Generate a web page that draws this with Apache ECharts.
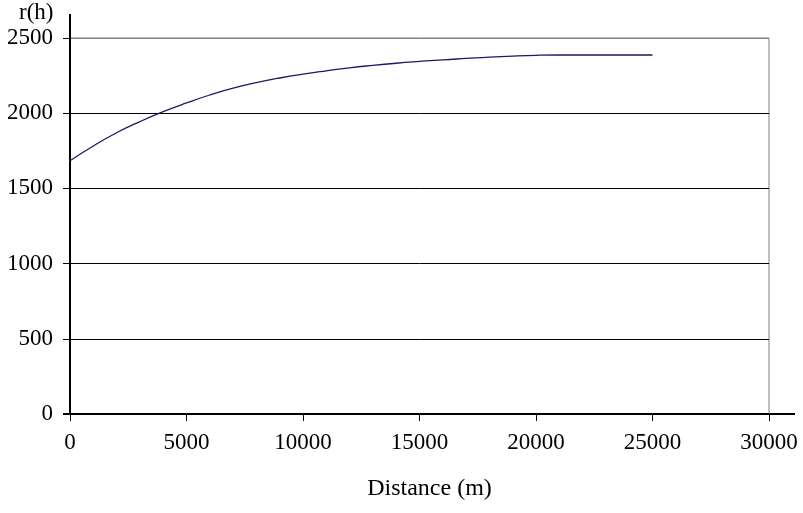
<!DOCTYPE html>
<html>
<head>
<meta charset="utf-8">
<script src="https://cdn.jsdelivr.net/npm/echarts@6/dist/echarts.min.js"></script>
<style>
  html, body { margin: 0; padding: 0; background: #fff; }
  #chart { width: 803px; height: 513px; }
</style>
</head>
<body>
<div id="chart"></div>
<script>
// distance along the profile (m) and r(h)
var distance = [0, 1000, 2000, 3000, 4000, 5000, 6000, 7000, 8000, 9000, 10000,
  11000, 12000, 13000, 14000, 15000, 16000, 17000, 18000, 19000, 20000,
  21000, 22000, 23000, 24000, 25000];
var rh = [1684, 1782, 1870, 1944, 2010, 2068, 2121, 2166, 2203, 2234, 2260,
  2282, 2302, 2318, 2332, 2344, 2355, 2364, 2373, 2380, 2385,
  2387, 2387, 2387, 2387, 2387];

var FONT = '"Liberation Serif", "Times New Roman", serif';
var FS = 23;
var G = { left: 70, top: 38, right: 34, bottom: 99 }; // plot area

function plain(v) { return String(v); }

var chart = echarts.init(document.getElementById('chart'));
chart.setOption({
  animation: false,
  backgroundColor: '#fff',
  title: {
    text: 'r(h)', left: 14, top: -4,
    textStyle: { fontFamily: FONT, fontSize: FS, fontWeight: 'normal', color: '#000' }
  },
  grid: {
    left: G.left, top: G.top, right: G.right, bottom: G.bottom,
    show: true, borderColor: '#808080', borderWidth: 1, backgroundColor: 'transparent'
  },
  xAxis: {
    type: 'value', min: 0, max: 30000, interval: 5000,
    name: 'Distance (m)', nameLocation: 'middle', nameGap: 63,
    nameTextStyle: { fontFamily: FONT, fontSize: 24, color: '#000', padding: [0, 0, 0, 20] },
    axisLine: { show: true, onZero: false, lineStyle: { color: '#000', width: 2 } },
    axisTick: { show: true, length: 7, lineStyle: { color: '#000', width: 1 } },
    axisLabel: { fontFamily: FONT, fontSize: FS, color: '#000', margin: 17, formatter: plain },
    splitLine: { show: false }
  },
  yAxis: {
    type: 'value', min: 0, max: 2500, interval: 500,
    axisLine: { show: true, lineStyle: { color: '#000', width: 2 } },
    axisTick: { show: true, length: 7, lineStyle: { color: '#000', width: 1 } },
    axisLabel: { fontFamily: FONT, fontSize: FS, color: '#000', margin: 17, formatter: plain },
    splitLine: {
      show: true,
      lineStyle: { color: ['#000', '#000', '#000', '#000', '#000', '#808080'], width: 1 }
    }
  },
  graphic: [
    // axis lines run a little past the plot area
    { type: 'line', shape: { x1: G.left, y1: 14, x2: G.left, y2: G.top },
      style: { stroke: '#000', lineWidth: 2 }, silent: true },
    { type: 'line', shape: { x1: 803 - G.right, y1: 513 - G.bottom, x2: 795, y2: 513 - G.bottom },
      style: { stroke: '#000', lineWidth: 2 }, silent: true },
    { type: 'line', shape: { x1: 63, y1: 513 - G.bottom, x2: G.left, y2: 513 - G.bottom },
      style: { stroke: '#000', lineWidth: 2 }, silent: true }
  ],
  series: [{
    type: 'line',
    data: distance.map(function (d, i) { return [d, rh[i]]; }),
    smooth: true,
    showSymbol: false,
    lineStyle: { color: '#1a1a66', width: 1.3 }
  }]
});
</script>
</body>
</html>
